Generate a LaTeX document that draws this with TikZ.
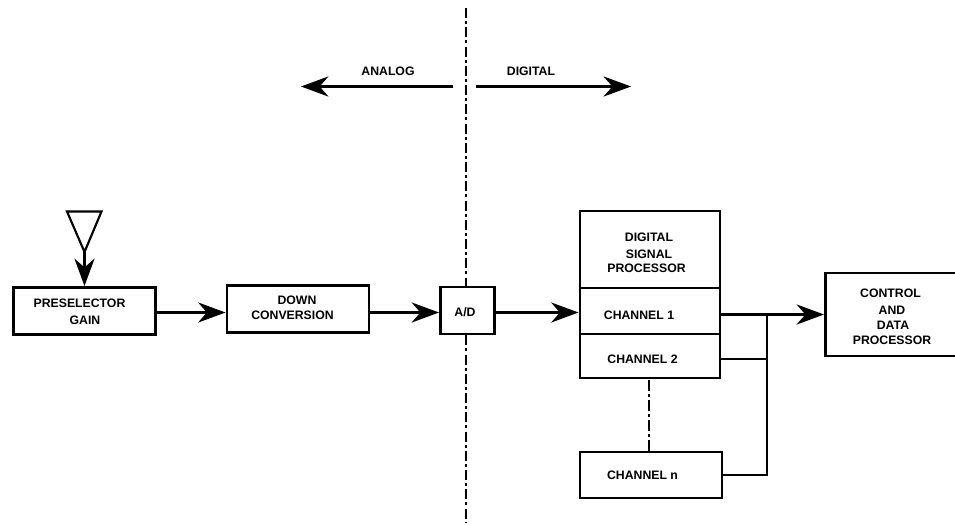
\documentclass[tikz,border=0pt]{standalone}
\usepackage{fontspec}
\setmainfont{Liberation Sans}
\usetikzlibrary{arrows.meta}
\tikzset{
  x=0.75pt,y=-0.75pt,
  boxn/.style 2 args={draw=black,line width=2.2pt,rectangle,inner sep=0pt,fill=white,minimum width=#1*0.75pt,minimum height=#2*0.75pt},
  lbl/.style={inner sep=0pt,font=\fontsize{9.2pt}{11pt}\selectfont\bfseries,text=black},
  wire/.style={draw=black,line width=2.2pt},
  flow/.style={wire,-{Stealth[length=20.5pt,width=15pt,inset=6.5pt]}},
  divider/.style={draw=black,line width=1.9pt,dash pattern=on 7.6pt off 2.2pt on 2.2pt off 2.44pt},
  chdash/.style={draw=black,line width=2pt,dash pattern=on 8.6pt off 2.2pt on 2pt off 2.2pt},
}
\begin{document}
\begin{tikzpicture}
\useasboundingbox (0,0) rectangle (955,524);
\fill[white] (0,0) rectangle (955,524);
\coordinate (topd) at (466,8);
\coordinate (botd) at (466,522);
\draw[divider] (topd) -- (botd);
% boxes
\node[boxn={142}{47}] (pre) at (84.5,311) {};
\node[boxn={142}{47}] (down) at (298,309) {};
\node[boxn={54}{47}] (ad) at (467.5,310.5) {};
\node[boxn={140}{77}] (dsp) at (650,249.5) {};
\node[boxn={140}{46}] (ch1) at (650,311) {};
\node[boxn={140}{44}] (ch2) at (650,356) {};
\node[boxn={142}{46}] (chn) at (651,475) {};
\node[boxn={132}{83}] (ctl) at (891.5,314.5) {};
% antenna
\draw[black,line width=1.6pt,line join=miter] (67,211.5) -- (101.5,211.5) -- (84.5,252) -- cycle;
\coordinate (anttip) at (84.5,252);
% labels
\node[lbl] (t1) at (79.5,303.5) {PRESELECTOR};
\node[lbl] (t2) at (85,320.5) {GAIN};
\node[lbl] (t3) at (297,300.5) {DOWN};
\node[lbl] (t4) at (292.5,315.5) {CONVERSION};
\node[lbl] (t5) at (465,312.5) {A/D};
\node[lbl] (t6) at (649,237) {DIGITAL};
\node[lbl] (t7) at (649,254) {SIGNAL};
\node[lbl] (t8) at (646.5,268.5) {PROCESSOR};
\node[lbl] (t9) at (639,315.5) {CHANNEL 1};
\node[lbl] (t10) at (642.5,359.5) {CHANNEL 2};
\node[lbl] (t11) at (642.5,475) {CHANNEL n};
\node[lbl] (t12) at (890.5,293) {CONTROL};
\node[lbl] (t13) at (892,310.5) {AND};
\node[lbl] (t14) at (893,325) {DATA};
\node[lbl] (t15) at (892,340) {PROCESSOR};
\node[lbl] (t16) at (388,71) {ANALOG};
\node[lbl] (t17) at (531,71) {DIGITAL};
% connectors
\coordinate (row) at (0,312.5);
\coordinate (rowb) at (0,314.5);
\coordinate (alend) at (453,86.5);
\coordinate (alfar) at (301,86.5);
\coordinate (dgstart) at (476,86.5);
\coordinate (dgfar) at (631,86.5);
\draw[flow] (alend) -- (alfar);
\draw[flow] (dgstart) -- (dgfar);
\draw[flow] (anttip) -- (pre.north);
\draw[flow] (pre.east |- row) -- (down.west |- row);
\draw[flow] (down.east |- row) -- (ad.west |- row);
\draw[flow] (ad.east |- row) -- (ch1.west |- row);
\draw[flow] (ch1.east |- rowb) -- (ctl.west |- rowb);
\coordinate (bus) at (767,314.5);
\coordinate (rowc) at (0,359);
\draw[wire] (bus) -- (bus |- chn.east) -- (chn.east);
\draw[wire] (ch2.east |- rowc) -- (bus |- rowc);
\coordinate (vd) at (649,380);
\draw[chdash] (vd) -- (vd |- chn.north);
\end{tikzpicture}
\end{document}
